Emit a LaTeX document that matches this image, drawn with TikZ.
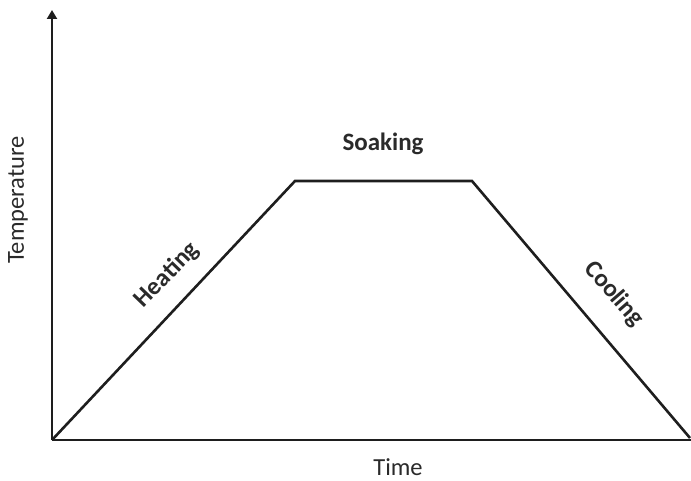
\documentclass[tikz,border=0pt]{standalone}
\usepackage{fontspec}
\setmainfont{Carlito}
\usetikzlibrary{arrows.meta}
\definecolor{linec}{HTML}{1E1E1E}
\definecolor{textc}{HTML}{2A2A2A}
\begin{document}
\begin{tikzpicture}[x=1pt,y=1pt,
  axis/.style={draw=linec,line width=2.6pt},
  curve/.style={draw=linec,line width=2.6pt,line join=miter},
  lab/.style={text=textc,font=\fontsize{24.5}{27}\selectfont,inner sep=0pt},
  blab/.style={text=textc,font=\fontsize{25}{28}\selectfont\bfseries,inner sep=0pt}]
\useasboundingbox (0,0) rectangle (691,480);
\coordinate (O) at (52,40);
\coordinate (Ytop) at (52,470);
\coordinate (Xend) at (691,40);
\coordinate (A) at (295,299);
\coordinate (B) at (472,299);
\coordinate (C) at (690,42);
\draw[axis,-{Triangle[width=10pt,length=9pt]}] (O) -- (Ytop);
\draw[axis] (O) -- (Xend);
\draw[curve] (O) -- (A) -- (B) -- (C);
\node[blab] (soak) at (383,336) {Soaking};
\node[blab,rotate=46] (heat) at (167,205) {Heating};
\node[blab,rotate=-49] (cool) at (614,186) {Cooling};
\node[lab,anchor=base] (time) at (398,5) {Time};
\node[lab,rotate=90] (temp) at (18,280) {Temperature};
\end{tikzpicture}
\end{document}
